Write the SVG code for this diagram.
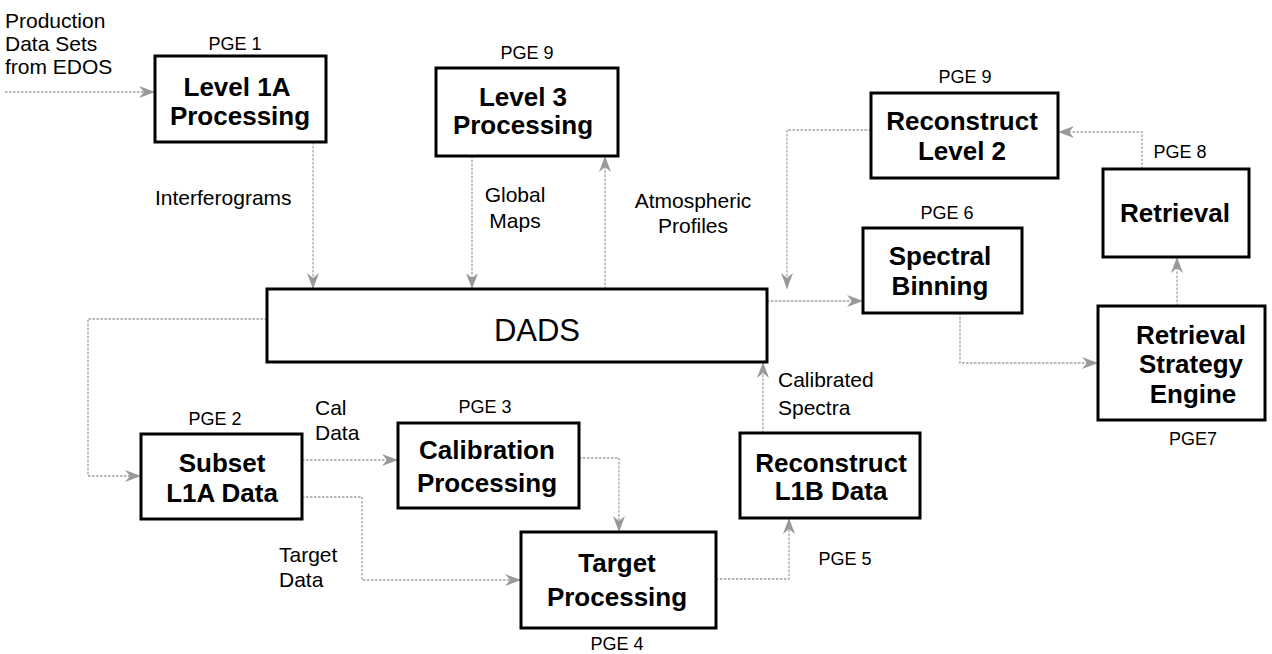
<svg xmlns="http://www.w3.org/2000/svg" width="1272" height="654" viewBox="0 0 1272 654">
<defs>
<style>
.box{fill:#fff;stroke:#000;stroke-width:3}
.b{font-family:"Liberation Sans",Arial,sans-serif;font-weight:bold;font-size:26px;fill:#000;text-anchor:middle}
.r{font-family:"Liberation Sans",Arial,sans-serif;font-size:21px;fill:#000}
.p{font-family:"Liberation Sans",Arial,sans-serif;font-size:18px;fill:#000;text-anchor:middle}
.c{fill:none;stroke:#a0a0a0;stroke-width:1.3;stroke-dasharray:2.5 1.5;marker-end:url(#ah)}
</style>
<marker id="ah" viewBox="0 0 16 12" refX="16" refY="6" markerWidth="16" markerHeight="12" markerUnits="userSpaceOnUse" orient="auto">
<path d="M0,0 L16,6 L0,12 L5,6 Z" fill="#999"/>
</marker>
</defs>
<rect width="1272" height="654" fill="#fff"/>
<g id="connectors">
<path class="c" d="M5,92 H155"/>
<path class="c" d="M313,142 V289"/>
<path class="c" d="M472,156 V289"/>
<path class="c" d="M605,289 V156"/>
<path class="c" d="M871,130 H787 V289"/>
<path class="c" d="M1142,169 V132 H1058"/>
<path class="c" d="M767,301 H863"/>
<path class="c" d="M960,313 V363 H1098"/>
<path class="c" d="M1177,306 V257"/>
<path class="c" d="M267,319 H88 V476 H141"/>
<path class="c" d="M302,460 H398"/>
<path class="c" d="M302,497 H362 V580 H521"/>
<path class="c" d="M579,458 H619 V532"/>
<path class="c" d="M716,579 H789 V518"/>
<path class="c" d="M763,433 V362"/>
</g>
<g id="labels">
<text class="r" x="5" y="28">Production</text>
<text class="r" x="5" y="51">Data Sets</text>
<text class="r" x="5" y="74">from EDOS</text>
<text class="r" x="155" y="205">Interferograms</text>
<text class="r" x="515" y="202" text-anchor="middle">Global</text>
<text class="r" x="515" y="228" text-anchor="middle">Maps</text>
<text class="r" x="693" y="208" text-anchor="middle">Atmospheric</text>
<text class="r" x="693" y="233" text-anchor="middle">Profiles</text>
<text class="r" x="778" y="387">Calibrated</text>
<text class="r" x="778" y="415">Spectra</text>
<text class="r" x="315" y="415">Cal</text>
<text class="r" x="315" y="440">Data</text>
<text class="r" x="279" y="562">Target</text>
<text class="r" x="279" y="587">Data</text>
</g>
<g id="n_l1a">
<text class="p" x="235" y="50">PGE 1</text>
<rect class="box" x="155" y="56" width="171" height="86"/>
<text class="b" x="237" y="96">Level 1A</text>
<text class="b" x="240" y="125">Processing</text>
</g>
<g id="n_l3">
<text class="p" x="527" y="59">PGE 9</text>
<rect class="box" x="436" y="68" width="182" height="88"/>
<text class="b" x="523" y="106">Level 3</text>
<text class="b" x="523" y="134">Processing</text>
</g>
<g id="n_rl2">
<text class="p" x="965" y="83">PGE 9</text>
<rect class="box" x="871" y="93" width="187" height="85"/>
<text class="b" x="962" y="130">Reconstruct</text>
<text class="b" x="962" y="160">Level 2</text>
</g>
<g id="n_ret">
<text class="p" x="1180" y="158">PGE 8</text>
<rect class="box" x="1103" y="169" width="146" height="88"/>
<text class="b" x="1175" y="222">Retrieval</text>
</g>
<g id="n_spec">
<text class="p" x="947" y="219">PGE 6</text>
<rect class="box" x="863" y="228" width="159" height="85"/>
<text class="b" x="940" y="265">Spectral</text>
<text class="b" x="940" y="295">Binning</text>
</g>
<g id="n_rse">
<rect class="box" x="1098" y="306" width="167" height="114"/>
<text class="b" x="1191" y="344">Retrieval</text>
<text class="b" x="1191" y="373">Strategy</text>
<text class="b" x="1193" y="403">Engine</text>
<text class="p" x="1193" y="445">PGE7</text>
</g>
<g id="n_dads">
<rect class="box" x="267" y="289" width="500" height="73"/>
<text x="537" y="341" font-family="Liberation Sans, Arial, sans-serif" font-size="31" text-anchor="middle">DADS</text>
</g>
<g id="n_subset">
<text class="p" x="215" y="425">PGE 2</text>
<rect class="box" x="141" y="434" width="161" height="85"/>
<text class="b" x="222" y="472">Subset</text>
<text class="b" x="222" y="502">L1A Data</text>
</g>
<g id="n_cal">
<text class="p" x="485" y="413">PGE 3</text>
<rect class="box" x="398" y="423" width="181" height="85"/>
<text class="b" x="487" y="459">Calibration</text>
<text class="b" x="487" y="492">Processing</text>
</g>
<g id="n_target">
<rect class="box" x="521" y="532" width="195" height="96"/>
<text class="b" x="617" y="572">Target</text>
<text class="b" x="617" y="606">Processing</text>
<text class="p" x="617" y="650">PGE 4</text>
</g>
<g id="n_rl1b">
<rect class="box" x="740" y="433" width="180" height="85"/>
<text class="b" x="831" y="472">Reconstruct</text>
<text class="b" x="831" y="500">L1B Data</text>
<text class="p" x="845" y="565">PGE 5</text>
</g>
</svg>
